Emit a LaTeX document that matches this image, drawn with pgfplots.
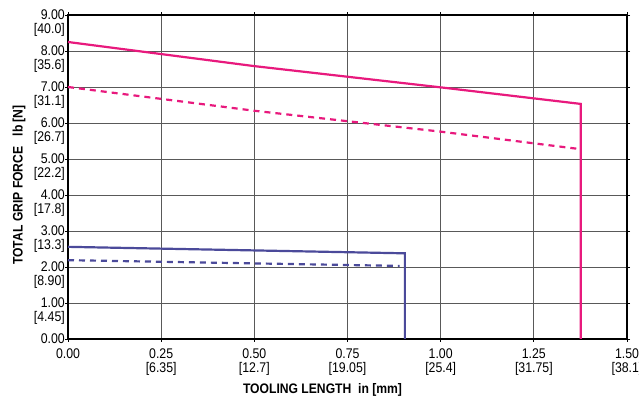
\documentclass[border=0pt]{standalone}
\usepackage{fontspec}
\setmainfont{Liberation Sans}[FakeStretch=0.88]
\usepackage{pgfplots}
\pgfplotsset{compat=1.18}
\definecolor{gpink}{HTML}{E8197D}
\definecolor{gblue}{HTML}{4B4A9A}
\begin{document}
\begin{tikzpicture}
\begin{axis}[
  scale only axis, width=559pt, height=324pt,
  xmin=0, xmax=1.5, ymin=0, ymax=9,
  xtick={0,0.25,0.5,0.75,1,1.25,1.5},
  xticklabels={0.00, {0.25\\{[6.35]}}, {0.50\\{[12.7]}}, {0.75\\{[19.05]}}, {1.00\\{[25.4]}}, {1.25\\{[31.75]}}, {1.50\\{[38.1]}}},
  ytick={0,1,2,3,4,5,6,7,8,9},
  yticklabels={0.00, {1.00\\{[4.45]}}, {2.00\\{[8.90]}}, {3.00\\{[13.3]}}, {4.00\\{[17.8]}}, {5.00\\{[22.2]}}, {6.00\\{[26.7]}}, {7.00\\{[31.1]}}, {8.00\\{[35.6]}}, {9.00\\{[40.0]}}},
  xticklabel style={align=center, font=\fontsize{14}{13.5}\selectfont, yshift=-5pt, inner sep=2pt},
  yticklabel style={align=right, anchor=north east, yshift=7pt, xshift=2pt, inner sep=2pt, font=\fontsize{14}{13.5}\selectfont},
  tick align=outside, major tick length=3pt,
  tick style={black, line width=0.8pt},
  axis line style={black, line width=1.6pt},
  grid=major,
  grid style={black!65, line width=0.9pt},
  xlabel={\bfseries TOOLING LENGTH\ \ in [mm]},
  ylabel={\bfseries TOTAL GRIP FORCE\ \ \ lb [N]},
  xlabel style={font=\fontsize{13.8}{14}\selectfont, xshift=-25pt, yshift=-3pt},
  ylabel style={font=\fontsize{13.8}{14}\selectfont, yshift=3pt, xshift=-8pt},
  clip=false,
]
\addplot[gpink, line width=2.2pt, line join=miter] coordinates {(0,8.25) (0.5,7.58) (1.0,6.99) (1.376,6.53) (1.376,0)};
\addplot[gpink, line width=2.2pt, dash pattern=on 6pt off 5pt] coordinates {(0,7.0) (0.5,6.34) (1.0,5.76) (1.37,5.28)};
\addplot[gblue, line width=2.2pt, line join=miter] coordinates {(0,2.56) (0.904,2.38) (0.904,0)};
\addplot[gblue, line width=2.2pt, dash pattern=on 6pt off 5pt] coordinates {(0,2.19) (0.89,2.03)};
\end{axis}
\pgfresetboundingbox
\useasboundingbox ([xshift=-68pt,yshift=-60pt]current axis.south west) rectangle ([xshift=12pt,yshift=15pt]current axis.north east);
\end{tikzpicture}
\end{document}
